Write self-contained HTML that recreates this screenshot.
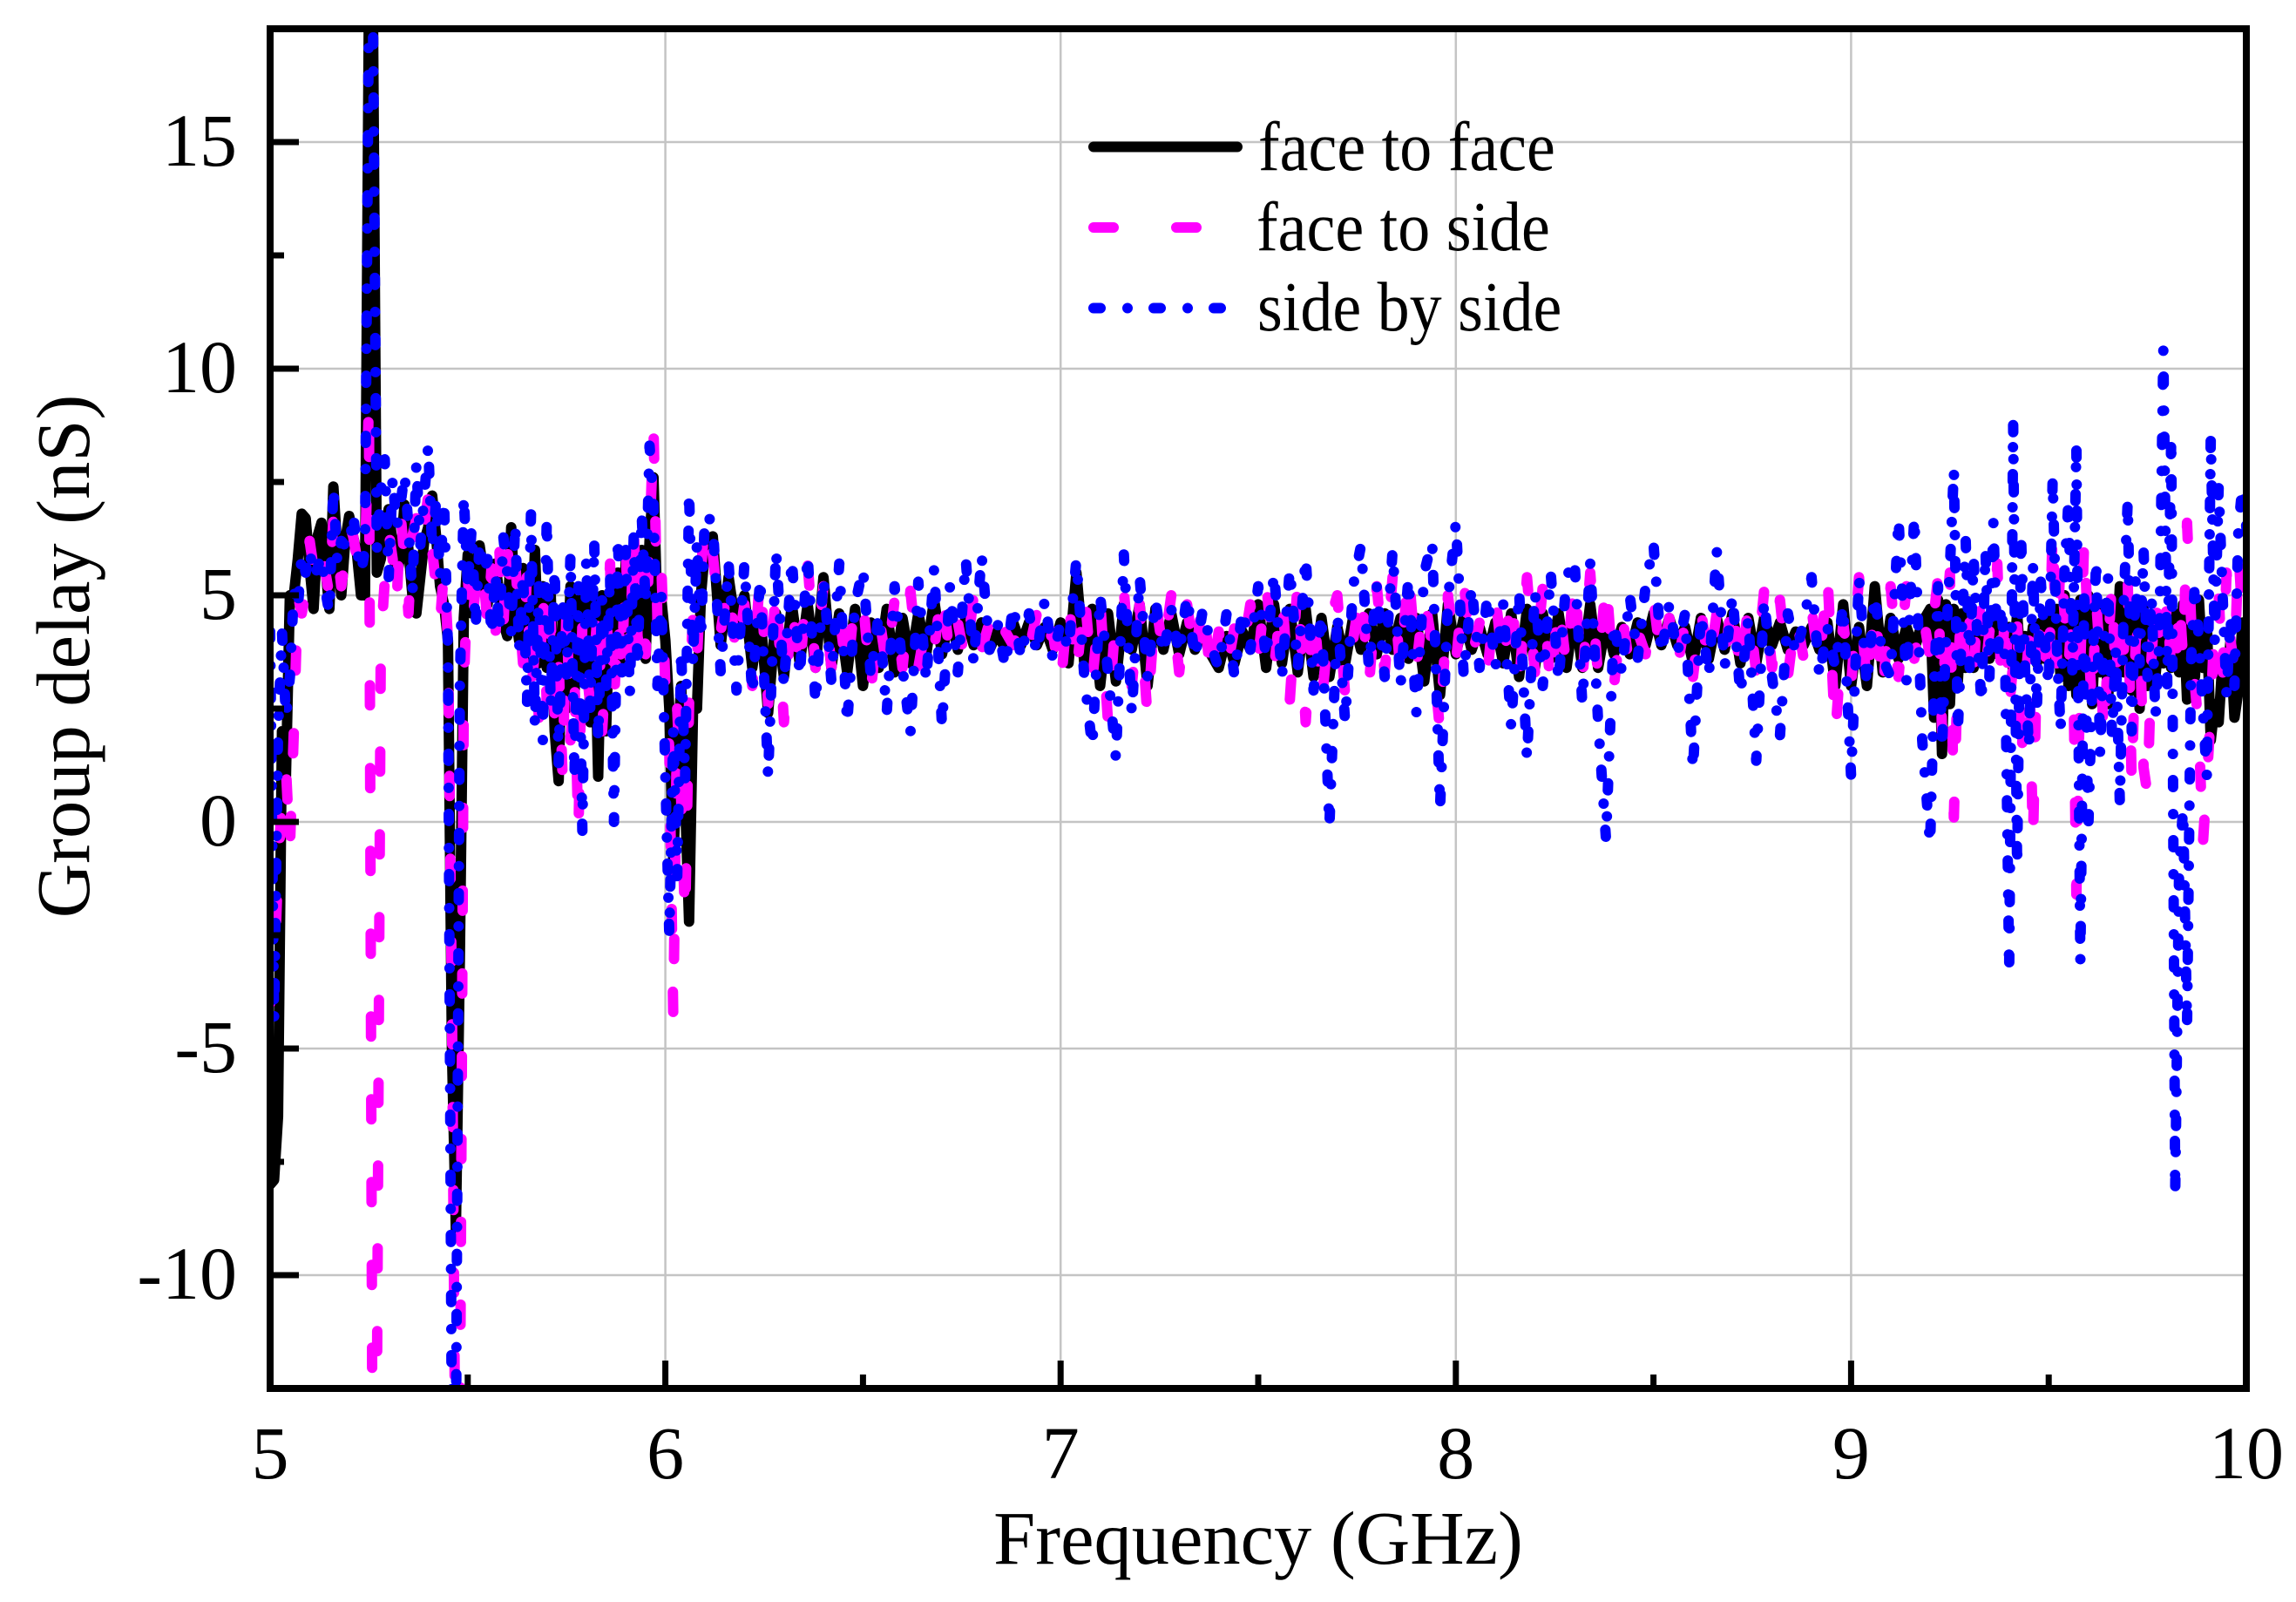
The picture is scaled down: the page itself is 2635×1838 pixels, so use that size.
<!DOCTYPE html>
<html lang="en">
<head>
<meta charset="utf-8">
<title>Group delay vs frequency</title>
<style>
html,body{margin:0;padding:0;background:#fff;width:2635px;height:1838px;overflow:hidden;}
svg{display:block;}
text{font-family:"Liberation Serif","Times New Roman",serif;fill:#000;}
</style>
</head>
<body>
<svg id="chart" xmlns="http://www.w3.org/2000/svg" width="2635" height="1838" viewBox="0 0 2635 1838">
  <defs><clipPath id="plot-clip"><rect x="310" y="33" width="2268" height="1560"/></clipPath></defs>
  <rect x="0" y="0" width="2635" height="1838" fill="#fff"/>
  <g id="grid"></g>
  <g id="series" clip-path="url(#plot-clip)"></g>
  <g id="axes"></g>
  <text x="1444" y="1794" font-size="86.5" text-anchor="middle">Frequency (GHz)</text>
  <text x="0" y="0" font-size="86.5" text-anchor="middle" transform="translate(102,753) rotate(-90)">Group delay (nS)</text>
  <g>
    <line x1="1255" y1="168.5" x2="1420" y2="168.5" stroke="#000" stroke-width="12" stroke-linecap="round"/>
    <text font-size="80" transform="translate(1444,195) scale(0.925,1)">face to face</text>
    <line x1="1255" y1="261" x2="1400" y2="261" stroke="#ff00ff" stroke-width="12" stroke-linecap="round" stroke-dasharray="23 72"/>
    <text font-size="80" transform="translate(1442,287) scale(0.925,1)">face to side</text>
    <line x1="1255" y1="353.5" x2="1402" y2="353.5" stroke="#0000ff" stroke-width="12" stroke-linecap="round" stroke-dasharray="8 31 0 30"/>
    <text font-size="80" transform="translate(1443,379) scale(0.925,1)">side by side</text>
  </g>
</svg>
<script>
const xMajorTicks = [5, 6, 7, 8, 9, 10];
const xMinorTicks = [5.5, 6.5, 7.5, 8.5, 9.5];
const xGridTicks = [6, 7, 8, 9];
const yMajorTicks = [15, 10, 5, 0, -5, -10];
const yMinorTicks = [12.5, 7.5, 2.5, -2.5, -7.5];
const xTickLabels = ["5", "6", "7", "8", "9", "10"];
const yTickLabels = ["15", "10", "5", "0", "-5", "-10"];

/* Samples: 5.00-6.10 every 0.01 GHz, 6.12-9.18 every 0.02 GHz, 9.20-10.00 every 0.01 GHz */
const faceToFace = [
-8,-7.9,-6.5,2,1,5,5,5.8,6.8,6.7,
5.6,4.7,6.3,6.6,5.6,4.7,7.4,6,5,6.2,
6.75,6.3,5.9,5,5,18.1,18.1,5.5,5.8,6.5,
6.9,6.1,5.4,5.9,7,6,5,4.6,5.4,6.2,
6.5,7.2,6.3,5.2,4.8,4,-5,-9,-3,4.5,
5.9,4.6,5.5,6.1,5.5,4.8,5.3,5.7,5,4.4,
4.1,6.5,4.6,4,5.6,4.4,3.6,6,3.5,5.2,
3.4,5,2,0.9,4.6,2.5,5.2,2.8,4.9,3.2,
5,2.2,4.8,1,5,2,5,3.4,5.5,3.6,
5.8,3.8,5.5,4,6,3.6,6.2,7.6,4.5,4.9,
4,2.5,-0.9,1.5,3,0.5,-2.2,2.5,2.5,5,
6,
6.3,3.9,5.4,4.2,
5,3.4,4.6,2.4,4.6,
3.2,4.8,3.5,4.8,3.4,
5.4,3.4,4.6,3.3,4.7,
3,4.4,3.4,4.7,3.3,
4.5,3.5,4.6,3.7,4.9,
3.7,4.6,3.8,4.5,3.9,
4.4,3.8,4.2,3.8,4.4,
3.9,4.4,3.9,4.3,3.8,
4.4,3.5,5.5,3.5,4.7,
3,4.6,3.1,4.8,3.8,
4.8,3,4.7,3.8,4.6,
3.7,4.4,3.8,4.2,3.7,
3.4,4.1,3.5,4.2,3.8,
4.8,3.4,4.8,3.5,4.7,
3.3,4.7,3.2,4.5,3.2,
4.3,3.5,4.5,3.8,4.6,
3.7,4.6,3.8,4.5,3.6,
4.5,3.1,4.6,2.8,4.8,
3.7,4.5,3.8,4.3,3.7,
4.4,3.5,4.6,3.2,4.7,
3.4,4.6,3.6,4.6,3.4,
4.7,3.4,4.8,3.4,4.4,
3.7,4.3,3.7,4.4,3.9,
4.6,3.9,4.5,3.9,4.3,
3.5,4.5,3.6,4.5,3.8,
4.6,3.5,4.5,3.5,4.5,
3.9,4.4,3.8,4.2,3.9,
4.3,3.8,4.4,3,4.8,
3,4.3,3,5.2,3.3,
4.5,3.6,4.3,3.8,4.4,
4.7,2.3,4.9,1.5,4.8,2.6,4.7,3.1,4.6,3.4,
4.3,3.4,4.2,3.5,4.5,3.6,4.4,3.7,4.4,3.8,
4.3,3.3,4.6,3.4,4.1,3.6,4.3,3.5,4.4,3.6,
4.6,3.5,4.7,3.2,5,3,4.6,2.8,4.9,3.1,
5,2.6,4.6,3.3,4.8,2.6,4.9,3.4,5.2,3.3,
4.8,2.9,4.6,2.5,4.7,3,4.3,3.2,4.2,3.5,
4,3.4,4.6,3.3,4.8,2.7,4.4,3.2,4.9,3.4,
4.4,1.8,2.6,2.2,3.6,3,4,2.3,2.9,4.4,
4.2
];

const faceToSide = [
-4,-3.5,-1,0.5,1.2,-0.6,2,5,4.6,5.1,
6.2,5.6,5.8,6.2,5.5,5,6.7,6,5.2,5.8,
6.6,6.3,5.8,5.7,5.6,9.35,-17.12,-13,4,5.3,
6.4,5.8,4.8,6.8,5.8,4.6,6.3,6.7,6,6.5,
7.2,6,5.2,4.4,5.6,4,-4,-16,-14,3,
5.4,4.2,5.2,5.8,5.5,4.3,5.6,4.1,6,4.3,
6.1,4.9,5.7,4.6,3.5,5.5,2.8,3.8,2.3,5.2,
2.6,4.4,2.3,3.5,1,4.8,1.8,3.2,-0.3,4.4,
3.4,2.6,3.6,4.8,2,3.5,5.7,2.6,4.5,3.3,
6,3.6,6.5,4,5.6,3.7,6.2,8.7,4.4,5.6,
3,1.6,-4.3,2.5,0.5,-2.2,2.6,4.6,3.6,5.5,
6.7,
5.9,4.2,5.3,3.6,
4.8,3,5.5,2.6,5.2,
2.2,4.9,3.2,5.7,3.4,
5.2,3.4,4.6,3.2,5,
4.9,2.9,4.6,3.4,4.9,
3.4,5.1,3.4,4.4,3.8,
5.2,3.6,4.4,3.5,5,
3.8,4.4,3.7,4.2,3.9,
4.4,3.8,4.6,3.7,4.2,
3,4.9,3.2,5.1,3.1,
4.9,2.2,4.6,5.1,3,
4.8,2.3,4.9,3.7,5,
3.3,4.8,3.5,5,3.1,
4.2,3.3,4.3,3.7,4.8,
3.6,5.3,3.4,5,2.7,
5.3,2.2,4.8,2.6,4.4,
5,2.8,4,5.2,3,
5.2,3.3,5.4,3.3,5.6,
3.4,5,3.9,2,5,
3.5,5.3,3.6,4.4,3.3,
5,3.4,5.1,3,5.4,
3.3,5.2,2.9,4.9,3.4,
5.4,3.1,5.5,3.2,5.4,
3,4.6,3.4,4.2,3.7,
4.9,3.5,4.5,3.4,4.4,
3.2,4.7,3.4,4.6,3.6,
5,3.2,4.8,3.3,5.1,
3.4,4.9,3.2,4.6,3.6,
4.7,3.4,5.5,1.9,4.4,
3,5.4,2.9,4.8,2.8,
5.2,3.2,5.2,3.6,4.7,
3.6,4.6,5.4,2,4.4,5.5,0.1,3.4,4.8,3.2,
4.4,3.2,5,4.4,3.3,4.2,4.4,5.7,3,4.8,
2.5,3.5,4.5,1.2,3,4,-0.5,3.5,4.8,3.8,
3,6.5,3.5,5.9,4.6,3.4,4.8,-1.6,3.5,6.3,
4,2.5,4.9,3.6,1.8,3.8,5.3,3,4.7,3.8,
5.3,0.8,4,4.3,1.2,0.6,3.6,5,4,3.5,
5,3.2,3,5,3.6,6.6,4.5,3,2,-0.5,
0.9,2.4,4.5,5,3.2,5.5,4,3.4,6,4.5,
5
];

const sideBySide = [
4.2,-4.4,2,4.2,2.3,3.2,5.1,4.7,5.9,5.5,
6,5.4,5.6,5.9,5.1,4.6,7.4,5.7,6.2,6.1,
6,6.8,6,5.5,6,18.1,18.1,6,7.3,8,
5.4,7.6,6.5,7,7.7,6.5,5,7.9,6.1,7.2,
8.3,6,7.1,5.4,7.1,3.8,-14,-14,3,7.2,
5.2,6.5,4.3,6.2,5.5,5.8,4.1,5.5,4.2,6.3,
5.5,4.2,6.6,3.8,5.5,2.6,6.8,2.1,5.2,1.8,
6.7,2.5,5.6,1.3,5,3.2,5.9,1,5.2,-0.2,
5.8,2.5,6.2,1.8,4.9,3,5.5,0,6.3,3.3,
6,2.8,6.3,3.4,6.8,4.8,8.3,7,3,5,
1,-2.5,2,-1.2,3.8,0.9,7.3,3.5,6.2,4,
6.8,
6.6,3.3,5.7,2.9,
5.7,2.8,5.4,1,6,
3,5.8,3.2,5.9,2.6,
5.4,3.1,5.7,2.15,4.8,
5.6,3.2,4.6,2.4,5.2,
3.4,1.95,5.3,3.1,5.6,
2.1,5.2,3.3,5.8,3.5,
5.9,3.8,4.4,3.4,4.8,
3.6,4.6,3.7,4.9,3.6,
4.4,3.8,5.8,3.2,1.65,
5,3.3,1.4,5.9,2.4,
5.4,3.2,4.9,3.7,4.7,
3.7,5,3.6,4.7,3.9,
3.4,4.6,3.2,4.7,3.8,
5.2,3.6,5.5,3.2,5.6,
3.4,5.85,2.9,4.6,-0.1,
4.6,2.2,5.2,6.1,3.4,
5.2,3.2,6,3,5.4,
2.4,5.5,6.2,0.3,4.9,
6.6,3.2,5.2,3.4,5,
3.4,4.8,2.1,5.1,1.4,
5.1,3,5.5,3.1,5.4,
5.8,2.6,5.7,2.2,-0.4,
4.4,3.3,5,3.6,5.2,
6.15,3.7,4.8,3.7,4.6,
1.15,4.6,3.2,6,3.4,
5,2.8,4.5,1.35,4.9,
3.2,1.9,4.6,3.7,4.4,
5.4,3.2,4.3,3.4,4.8,
1,5.4,3,5,3.6,
3.2,6.7,3.1,6.75,1.8,
-0.5,3,5.2,1.6,4,5.6,7.8,2,4.2,6.2,
3.4,5.8,4,2.6,6,3.2,6.6,3.6,4.8,3.5,
-3.3,8.8,-1,6.3,3.4,1.6,5.7,2.5,5.3,4,
3,7.6,4,2,5.5,7.1,3.3,8.3,-3.1,5.2,
-0.2,3,5.8,1.5,4,5.4,1.9,3.8,0.4,4.9,
7.1,2,5.4,3.5,6,3.2,5,2.3,4,10.4,
3,8.5,-8.2,-1,0.3,-4.5,3.5,5.3,4,2.5,
1,8.5,4,7.4,5,2.8,4.5,3,6.5,7.4,
6.5
];

const frequencies = [];
for (let h = 500; h <= 610; h += 1) { frequencies.push(h / 100); }
for (let h = 612; h <= 918; h += 2) { frequencies.push(h / 100); }
for (let h = 920; h <= 1000; h += 1) { frequencies.push(h / 100); }

const xScale = function (v) { return 310 + (v - 5) * 453.6; };
const yScale = function (v) { return 943 - v * 52; };
const SVG_NS = "http://www.w3.org/2000/svg";
const grid = document.getElementById("grid");
const axes = document.getElementById("axes");
const seriesGroup = document.getElementById("series");

function shape(tag, parent, attrs) {
  const el = document.createElementNS(SVG_NS, tag);
  Object.keys(attrs).forEach(function (k) { el.setAttribute(k, attrs[k]); });
  parent.appendChild(el);
  return el;
}

xGridTicks.forEach(function (t) {
  const el = shape("line", grid, {x1: xScale(t), x2: xScale(t), y1: 33, y2: 1593, stroke: "#c4c4c4", "stroke-width": 2.5});
  
  
});
yMajorTicks.forEach(function (t) {
  const el = shape("line", grid, {x1: 310, x2: 2578, y1: yScale(t), y2: yScale(t), stroke: "#c4c4c4", "stroke-width": 2.5});
  
  
});

function drawSeries(values, color, dash, name) {
  let d = "";
  values.forEach(function (v, i) {
    d += (i === 0 ? "M" : "L") + xScale(frequencies[i]).toFixed(2) + " " + yScale(v).toFixed(2);
  });
  const attrs = {d: d, fill: "none", stroke: color, "stroke-width": 12, "stroke-linecap": "round", "stroke-linejoin": "round"};
  if (dash) { attrs["stroke-dasharray"] = dash; }
  const el = shape("path", seriesGroup, attrs);
  
  
}
drawSeries(faceToFace, "#000000", null, "series-face-to-face");
drawSeries(faceToSide, "#ff00ff", "23 72", "series-face-to-side");
drawSeries(sideBySide, "#0000ff", "8 31 0 30", "series-side-by-side");

const frame = shape("rect", axes, {x: 310, y: 33, width: 2268, height: 1560, fill: "none", stroke: "#000", "stroke-width": 8});



xMajorTicks.forEach(function (t, i) {
  const tick = shape("line", axes, {x1: xScale(t), x2: xScale(t), y1: 1593, y2: 1561, stroke: "#000", "stroke-width": 7});
  
  
  const label = shape("text", axes, {x: xScale(t), y: 1696, "font-size": 86, "text-anchor": "middle"});
  label.textContent = xTickLabels[i];
  
  
});
xMinorTicks.forEach(function (t) {
  const tick = shape("line", axes, {x1: xScale(t), x2: xScale(t), y1: 1593, y2: 1577, stroke: "#000", "stroke-width": 7});
  
  
});
yMajorTicks.forEach(function (t, i) {
  const tick = shape("line", axes, {x1: 310, x2: 343, y1: yScale(t), y2: yScale(t), stroke: "#000", "stroke-width": 7});
  
  
  const label = shape("text", axes, {x: 272, y: yScale(t) + 27, "font-size": 86, "text-anchor": "end"});
  label.textContent = yTickLabels[i];
  
  
});
yMinorTicks.forEach(function (t) {
  const tick = shape("line", axes, {x1: 310, x2: 326, y1: yScale(t), y2: yScale(t), stroke: "#000", "stroke-width": 7});
  
  
});
</script>
</body>
</html>
